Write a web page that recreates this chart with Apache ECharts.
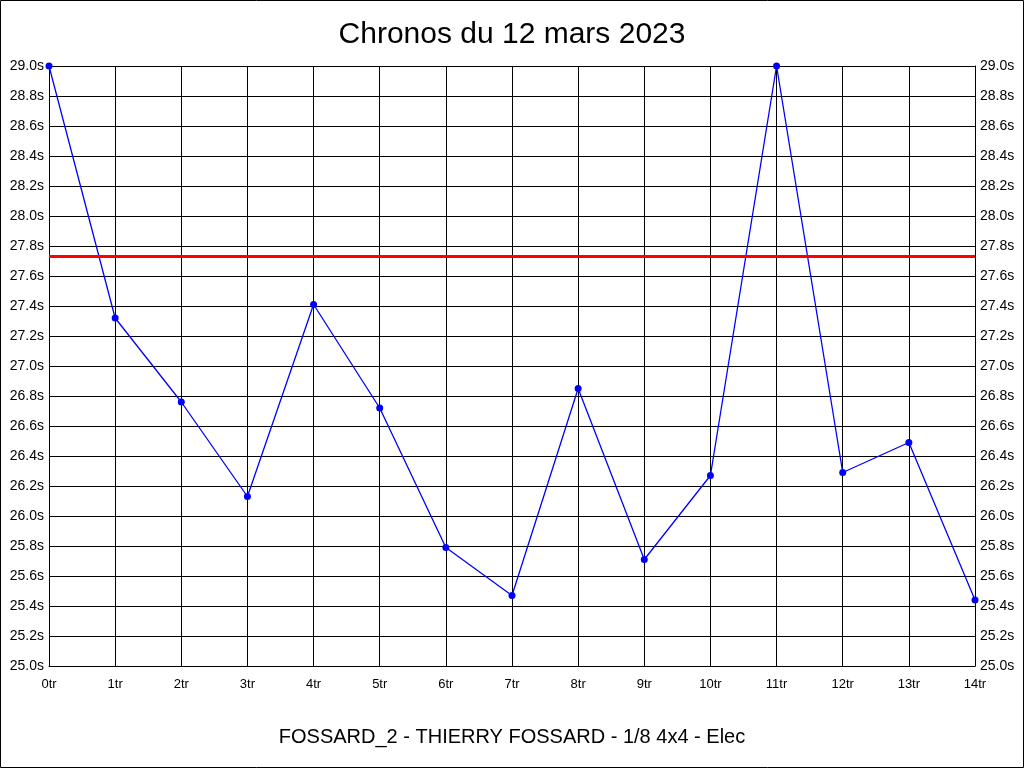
<!DOCTYPE html>
<html><head><meta charset="utf-8">
<script src="https://cdn.jsdelivr.net/npm/echarts@6/dist/echarts.min.js"></script>
<style>html,body{margin:0;padding:0;background:#fff}#c{width:1024px;height:768px}</style>
</head><body><div id="c"></div>
<script>
const categories = ['0tr','1tr','2tr','3tr','4tr','5tr','6tr','7tr','8tr','9tr','10tr','11tr','12tr','13tr','14tr'];
const times = [29.0, 27.32, 26.76, 26.13, 27.41, 26.72, 25.79, 25.47, 26.85, 25.71, 26.27, 29.0, 26.29, 26.49, 25.44];
const referenceTime = 27.73;
const titleText = 'Chronos du 12 mars 2023';
const subtitleText = 'FOSSARD_2 - THIERRY FOSSARD - 1/8 4x4 - Elec';

const chart = echarts.init(document.getElementById('c'), null, {renderer:'canvas'});
const yAxisBase = {
  type:'value', min:25, max:29, interval:0.2,
  axisLine:{show:true, lineStyle:{color:'#000', width:1}},
  axisTick:{show:false},
  splitLine:{show:true, lineStyle:{color:'#000', width:1}},
  axisLabel:{color:'#000', fontFamily:'Liberation Sans', fontSize:14, margin:5,
    formatter: v => v.toFixed(1) + 's'}
};
chart.setOption({
  animation:false,
  backgroundColor:'#fff',
  title:[
    {text:titleText, left:'center', top:15, textStyle:{fontFamily:'Liberation Sans', fontSize:30, fontWeight:'normal', color:'#000'}},
    {text:subtitleText, left:'center', top:722, textStyle:{fontFamily:'Liberation Sans', fontSize:20, fontWeight:'normal', color:'#000'}}
  ],
  graphic:[{type:'rect', shape:{x:0.5,y:0.5,width:1023,height:767}, style:{fill:null, stroke:'#000', lineWidth:1}, silent:true}],
  grid:{left:49, right:49, top:66, bottom:102, containLabel:false},
  xAxis:{type:'category', data:categories, boundaryGap:false,
    axisLine:{show:true, lineStyle:{color:'#000'}},
    axisTick:{show:false},
    splitLine:{show:true, lineStyle:{color:'#000', width:1}},
    axisLabel:{color:'#000', fontFamily:'Liberation Sans Narrow, Liberation Sans', fontSize:13, margin:12}},
  yAxis:[Object.assign({position:'left'}, yAxisBase), Object.assign({position:'right'}, yAxisBase)],
  series:[{
    type:'line', data:times, yAxisIndex:0,
    symbol:'circle', symbolSize:7,
    lineStyle:{color:'#0000ff', width:1.3},
    itemStyle:{color:'#0000ff'},
    markLine:{silent:true, symbol:['none','none'], label:{show:false},
      lineStyle:{color:'#ff0000', width:3, type:'solid'},
      data:[{yAxis:referenceTime}]}
  }]
});
</script></body></html>
